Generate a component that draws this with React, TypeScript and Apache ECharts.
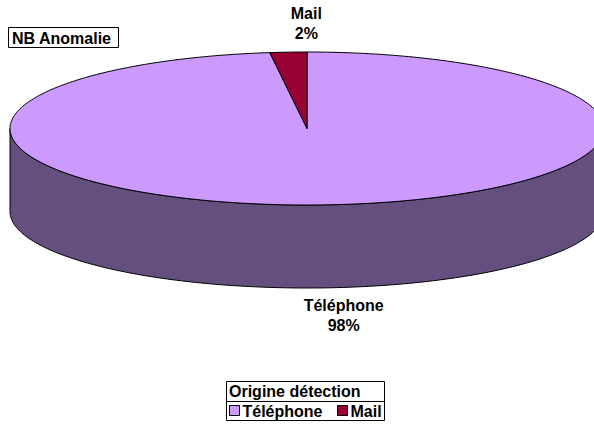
import React, { useEffect, useRef } from "react";
import * as echarts from "echarts";

const categories = ["Téléphone", "Mail"];
const values = [98, 2];
const sliceColors = ["#CC99FF", "#990033"];
const sideColors = ["#644F7F", "#4D0019"];
const chartTitle = "NB Anomalie";
const legendTitle = "Origine détection";

const FONT = "'Liberation Sans', Arial, sans-serif";
const FS = 16;

export default function App() {
  const ref = useRef<HTMLDivElement>(null);
  useEffect(() => {
    document.body.style.margin = "0";
    const chart = echarts.init(ref.current!, null, { renderer: "svg" });
    const total = values.reduce((a, b) => a + b, 0);
    const cx = 307, cy = 128.5, rx = 297, ry = 76.5, depth = 83;
    const pt = (deg: number, dy = 0) => {
      const r = (deg * Math.PI) / 180;
      return [cx + rx * Math.sin(r), cy - ry * Math.cos(r) + dy];
    };
    const arc = (a0: number, a1: number, dy = 0) => {
      const pts: number[][] = [];
      const n = Math.max(2, Math.ceil(Math.abs(a1 - a0) / 1));
      for (let i = 0; i <= n; i++) pts.push(pt(a0 + ((a1 - a0) * i) / n, dy));
      return pts;
    };

    const renderItem = (params: any, api: any) => {
      const idx = params.dataIndex;
      let start = 0;
      for (let i = 0; i < idx; i++) start += values[i];
      const v = api.value(0);
      const a0 = (start / total) * 360;
      const a1 = ((start + v) / total) * 360;
      const children: any[] = [];
      const s0 = Math.max(a0, 90), s1 = Math.min(a1, 270);
      if (s1 > s0) {
        const top = arc(s0, s1);
        const bottom = arc(s1, s0, depth);
        children.push({
          type: "polygon",
          shape: { points: top.concat(bottom) },
          style: { fill: sideColors[idx], stroke: "#000", lineWidth: 1 },
        });
      }
      children.push({
        type: "polygon",
        shape: { points: [[cx, cy]].concat(arc(a0, a1)) },
        style: { fill: sliceColors[idx], stroke: "#000", lineWidth: 1, lineJoin: "round" },
      });
      const mid = (a0 + a1) / 2;
      const p = pt(mid);
      const upper = Math.cos((mid * Math.PI) / 180) > 0;
      const pct = Math.round((v / total) * 100);
      children.push({
        type: "text",
        x: p[0] + 18,
        y: upper ? p[1] - 9 : p[1] + depth + 8,
        style: {
          text: `${categories[idx]}\n${pct}%`,
          fontFamily: FONT,
          fontSize: FS,
          fontWeight: "bold",
          fill: "#000",
          align: "center",
          verticalAlign: upper ? "bottom" : "top",
          lineHeight: 20,
        },
      });
      return { type: "group", children };
    };

    const legendChildren: any[] = [
      {
        type: "rect",
        shape: { x: 226.5, y: 381.5, width: 158, height: 39 },
        style: { fill: "#fff", stroke: "#000", lineWidth: 1 },
      },
      {
        type: "line",
        shape: { x1: 226.5, y1: 401.5, x2: 384.5, y2: 401.5 },
        style: { stroke: "#000", lineWidth: 1 },
      },
      {
        type: "text",
        x: 229,
        y: 391.5,
        style: { text: legendTitle, fontFamily: FONT, fontSize: FS, fontWeight: "bold", fill: "#000", verticalAlign: "middle" },
      },
    ];
    const itemX = [229.5, 337.5];
    categories.forEach((c, i) => {
      legendChildren.push({
        type: "rect",
        shape: { x: itemX[i], y: 405.5, width: 10, height: 10 },
        style: { fill: sliceColors[i], stroke: "#000", lineWidth: 1 },
      });
      legendChildren.push({
        type: "text",
        x: itemX[i] + 13,
        y: 411,
        style: { text: c, fontFamily: FONT, fontSize: FS, fontWeight: "bold", fill: "#000", verticalAlign: "middle" },
      });
    });

    chart.setOption({
      animation: false,
      backgroundColor: "#fff",
      graphic: [
        {
          type: "group",
          children: [
            {
              type: "rect",
              shape: { x: 8.5, y: 27.5, width: 110, height: 20 },
              style: { fill: "#fff", stroke: "#000", lineWidth: 1 },
            },
            {
              type: "text",
              x: 12,
              y: 38,
              style: { text: chartTitle, fontFamily: FONT, fontSize: FS, fontWeight: "bold", fill: "#000", verticalAlign: "middle" },
            },
          ],
        },
        { type: "group", children: legendChildren },
      ],
      series: [
        {
          type: "custom",
          coordinateSystem: "none",
          renderItem,
          data: categories.map((c, i) => ({ name: c, value: [values[i]] })),
          silent: true,
        },
      ],
    });
    return () => chart.dispose();
  }, []);
  return <div ref={ref} style={{ width: 594, height: 434 }} />;
}
